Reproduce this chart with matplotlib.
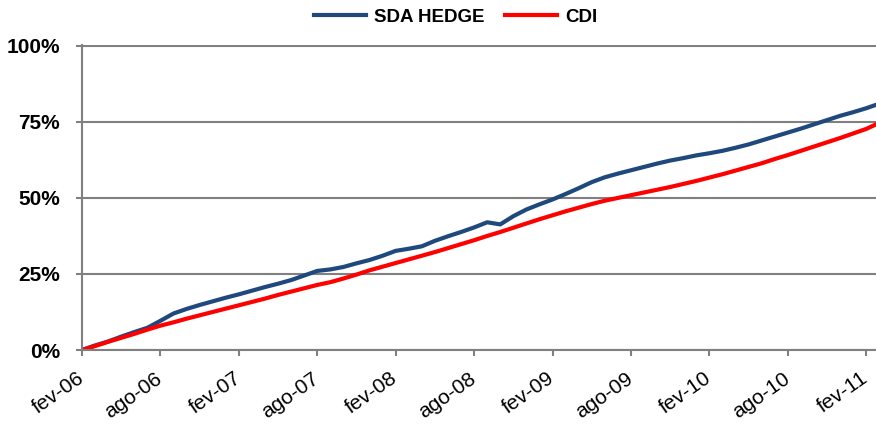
import matplotlib.pyplot as plt
import matplotlib.transforms as mtransforms
import numpy as np

plt.rcParams['font.family'] = ['Liberation Sans', 'DejaVu Sans']

# cumulative return (%), monthly from fev-06
sda_hedge = [0.0, 1.5, 2.8, 4.4, 5.9, 7.3, 9.6, 12.0, 13.5, 14.8,
             16.0, 17.2, 18.3, 19.5, 20.7, 21.8, 23.0, 24.5, 26.0, 26.5,
             27.3, 28.5, 29.6, 31.0, 32.6, 33.3, 34.1, 35.9, 37.4, 38.8,
             40.3, 42.0, 41.3, 44.0, 46.2, 47.9, 49.5, 51.3, 53.2, 55.2,
             56.8, 58.0, 59.1, 60.2, 61.3, 62.3, 63.1, 64.0, 64.7, 65.5,
             66.5, 67.6, 68.9, 70.2, 71.5, 72.8, 74.2, 75.6, 77.0, 78.2,
             79.5, 81.0]
cdi = [0.0, 1.3, 2.7, 4.0, 5.3, 6.7, 8.0, 9.1, 10.3, 11.4,
       12.5, 13.6, 14.7, 15.8, 16.9, 18.1, 19.2, 20.3, 21.4, 22.3,
       23.5, 24.8, 26.2, 27.4, 28.6, 29.8, 31.0, 32.2, 33.5, 34.8,
       36.1, 37.5, 38.8, 40.2, 41.6, 43.0, 44.3, 45.6, 46.8, 48.0,
       49.1, 50.0, 50.9, 51.8, 52.7, 53.6, 54.6, 55.6, 56.7, 57.8,
       59.0, 60.2, 61.4, 62.8, 64.1, 65.5, 66.9, 68.3, 69.7, 71.2,
       72.7, 74.7]
x_labels = ['fev-06', 'ago-06', 'fev-07', 'ago-07', 'fev-08', 'ago-08',
            'fev-09', 'ago-09', 'fev-10', 'ago-10', 'fev-11']
y_ticks = [0, 25, 50, 75, 100]

months = np.arange(len(sda_hedge))
gray = '#808080'

fig = plt.figure(figsize=(8.76, 4.25), dpi=100)
ax = fig.add_axes([82/876, 1 - 350/425, 1 - 82/876, 305/425])

ax.plot(months, sda_hedge, color='#1F497D', lw=3, label='SDA HEDGE')
ax.plot(months, cdi, color='#FF0000', lw=3, label='CDI')

ax.set_xlim(0, 60.75)
ax.set_ylim(0, 100.3)
ax.set_yticks(y_ticks)
ax.set_yticklabels([f'{v}%' for v in y_ticks], fontsize=15, fontweight='bold')
ax.set_xticks(np.arange(0, 61, 6))
ax.set_xticklabels(x_labels, fontsize=15, rotation=35, ha='right',
                   va='center', rotation_mode='anchor')
# nudge the rotated labels a little to the right
shift = mtransforms.ScaledTranslation(3/100, 0, fig.dpi_scale_trans)
for lbl in ax.get_xticklabels():
    lbl.set_transform(lbl.get_transform() + shift)

ax.yaxis.grid(True, color=gray, lw=1.5)
ax.set_axisbelow(True)
for s in ['top', 'right']:
    ax.spines[s].set_visible(False)
for s in ['left', 'bottom']:
    ax.spines[s].set_color(gray)
    ax.spines[s].set_linewidth(1.5)
ax.tick_params(axis='y', colors=gray, length=4, width=1.5, pad=12, labelcolor='black')
ax.tick_params(axis='x', colors=gray, length=4, width=1.5, pad=15, labelcolor='black')

fig.legend(loc='center', bbox_to_anchor=(0.52, 0.96), ncol=2, frameon=False,
           prop={'size': 13.5, 'weight': 'bold'}, handlelength=2.8,
           handletextpad=0.4, columnspacing=1.1)

fig.savefig('out.png', dpi=100)
